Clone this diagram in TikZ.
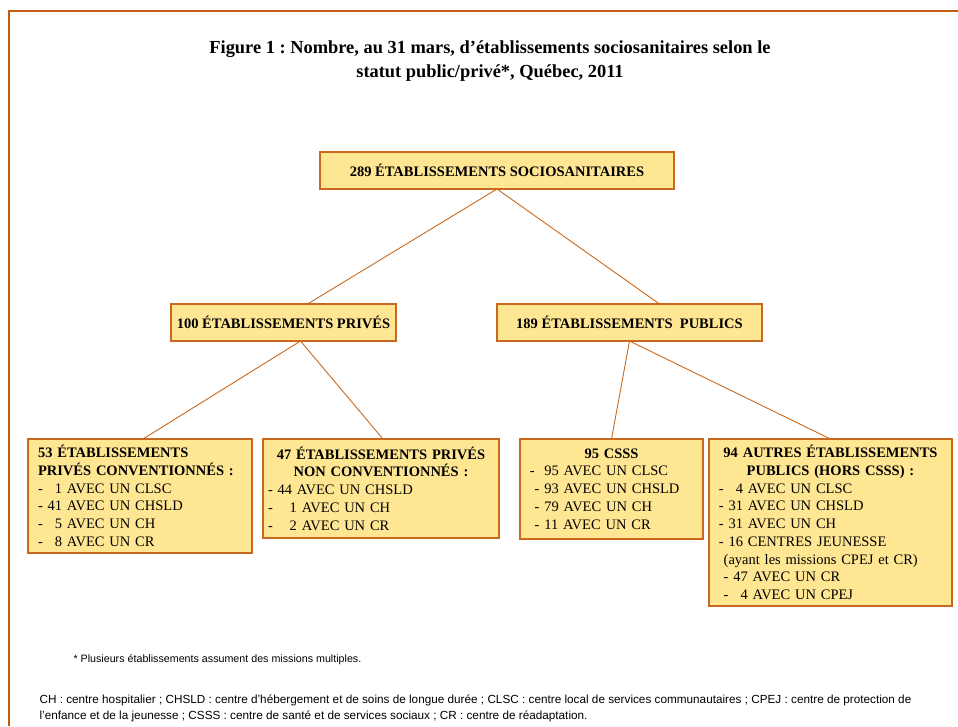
\documentclass[tikz,border=0pt]{standalone}
\usepackage{fontspec}
\setmainfont{Liberation Serif}
\newfontfamily\notefont{Liberation Sans}
\usepackage{tikz}
\frenchspacing

\definecolor{cadre}{HTML}{C55A11}
\definecolor{trait}{HTML}{C8691E}
\definecolor{jaune}{HTML}{FFE693}

\begin{document}
\begin{tikzpicture}[x=1pt, y=-1pt, font=\fontsize{14.5}{17.7}\selectfont,
  boite/.style = {draw=trait, line width=1.3pt, fill=jaune, anchor=north west, inner sep=0pt, outer sep=0pt},
  lien/.style = {draw=trait, line width=0.9pt}]
\useasboundingbox (0,0) rectangle (958,726);
\draw[cadre, line width=2pt] (958,11) -- (9,11) -- (9,726);

\node[align=center, font=\fontsize{18.4}{24}\selectfont\bfseries] (titre) at (490,61)
  {Figure 1 : Nombre, au 31 mars, d’établissements sociosanitaires selon le\\statut public/privé*, Québec, 2011};

\node[boite, minimum width=354pt, minimum height=37pt, font=\fontsize{14.5}{17.5}\selectfont\bfseries] (1) at (320,152) {289 ÉTABLISSEMENTS SOCIOSANITAIRES};
\node[boite, minimum width=225pt, minimum height=37pt, font=\fontsize{14.5}{17.5}\selectfont\bfseries] (2) at (171,304) {100 ÉTABLISSEMENTS PRIVÉS};
\node[boite, minimum width=265pt, minimum height=37pt, font=\fontsize{14.5}{17.5}\selectfont\bfseries] (3) at (497,304) {189 ÉTABLISSEMENTS\ \ PUBLICS};

\node[boite, text width=204pt, minimum height=114pt, align=left, inner xsep=10pt, inner ysep=6pt] (4) at (28,439)
  {\textbf{53 ÉTABLISSEMENTS}\\
   \textbf{PRIVÉS CONVENTIONNÉS :}\\
   - \enspace 1 AVEC UN CLSC\\
   - 41 AVEC UN CHSLD\\
   - \enspace 5 AVEC UN CH\\
   - \enspace 8 AVEC UN CR};
\node[boite, text width=226pt, minimum height=99pt, align=left, inner xsep=5pt, inner ysep=6pt] (5) at (263,439)
  {{\centering\bfseries 47 ÉTABLISSEMENTS PRIVÉS\\ NON CONVENTIONNÉS :\par}
   - 44 AVEC UN CHSLD\\
   - \enspace\ 1 AVEC UN CH\\
   - \enspace\ 2 AVEC UN CR};
\node[boite, text width=173pt, minimum height=100pt, align=left, inner xsep=5pt, inner ysep=6pt] (6) at (520,439)
  {{\centering\bfseries 95 CSSS\par}
   \ -\ \ 95 AVEC UN CLSC\\
   \ \ - 93 AVEC UN CHSLD\\
   \ \ - 79 AVEC UN CH\\
   \ \ - 11 AVEC UN CR};
\node[boite, text width=233pt, minimum height=167pt, align=left, inner xsep=5pt, inner ysep=6pt] (7) at (709,439)
  {{\centering\bfseries 94 AUTRES ÉTABLISSEMENTS\\ PUBLICS (HORS CSSS) :\par}
   \ - \enspace 4 AVEC UN CLSC\\
   \ - 31 AVEC UN CHSLD\\
   \ - 31 AVEC UN CH\\
   \ - 16 CENTRES JEUNESSE\\
   \ \ (ayant les missions CPEJ et CR)\\
   \ \ - 47 AVEC UN CR\\
   \ \ - \enspace 4 AVEC UN CPEJ};

\draw[lien] (1.south) -- ([xshift=24pt]2.north);
\draw[lien] (1.south) -- ([xshift=30pt]3.north);
\draw[lien] ([xshift=17pt]2.south) -- ([xshift=3pt]4.north);
\draw[lien] ([xshift=17pt]2.south) -- ([xshift=2pt]5.north);
\draw[lien] (3.south) -- (6.north);
\draw[lien] (3.south) -- (7.north);

\node[anchor=west, font=\notefont\fontsize{10.7}{12}\selectfont] (note) at (70,660)
  {* Plusieurs établissements assument des missions multiples.};
\node[anchor=north west, align=left, font=\notefont\fontsize{11.75}{16}\selectfont] (sigles) at (36,691)
  {CH : centre hospitalier ; CHSLD : centre d’hébergement et de soins de longue durée ; CLSC : centre local de services communautaires ; CPEJ : centre de protection de\\
   l’enfance et de la jeunesse ; CSSS : centre de santé et de services sociaux ; CR : centre de réadaptation.};
\end{tikzpicture}
\end{document}
